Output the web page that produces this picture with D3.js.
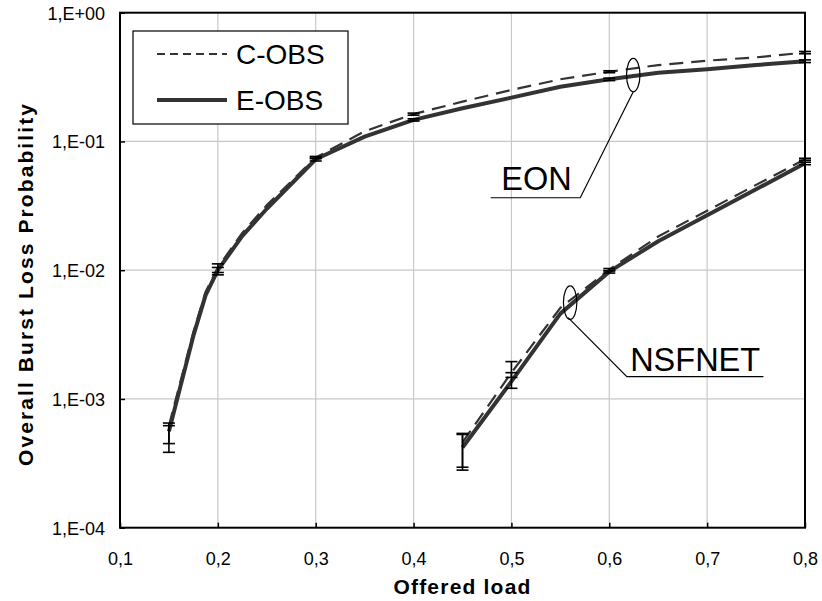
<!DOCTYPE html>
<html>
<head>
<meta charset="utf-8">
<script src="https://cdn.jsdelivr.net/npm/d3@7"></script>
<style>
  body { margin: 0; background: #fff; }
  text { font-family: Arial, "Liberation Sans", sans-serif; fill: #000; }
</style>
</head>
<body>
<div id="chart"></div>
<script>
// burst loss probability vs offered load, log y axis

var width = 822,
    height = 601;

var margin = {left: 120, right: 17, top: 12.7, bottom: 73.3};

// EON curves
var eonX = [0.15, 0.175, 0.1875, 0.2, 0.225, 0.25, 0.3, 0.35, 0.4, 0.45, 0.5, 0.55, 0.6, 0.65, 0.7, 0.75, 0.8];
var eonE = [5.6e-4, 3.1e-3, 6.4e-3, 1.0e-2, 1.85e-2, 3.0e-2, 7.27e-2, 0.109, 0.147, 0.181, 0.219, 0.266, 0.304, 0.342, 0.363, 0.392, 0.42];
var eonC = [6.2e-4, 3.3e-3, 6.8e-3, 1.05e-2, 1.95e-2, 3.2e-2, 7.5e-2, 0.12, 0.163, 0.204, 0.251, 0.304, 0.348, 0.392, 0.424, 0.45, 0.49];

// NSFNET curves
var nsfX = [0.45, 0.5, 0.55, 0.6, 0.65, 0.7, 0.75, 0.8];
var nsfE = [4.2e-4, 1.37e-3, 4.6e-3, 9.75e-3, 1.68e-2, 2.67e-2, 4.25e-2, 6.76e-2];
var nsfC = [4.6e-4, 1.6e-3, 5.1e-3, 1.01e-2, 1.83e-2, 2.9e-2, 4.6e-2, 7.27e-2];

// confidence intervals
var eonErrX = [0.15, 0.2, 0.3, 0.4, 0.6, 0.8];
var eonCLo = [4.5e-4, 9.6e-3, 0.0735, 0.160, 0.342, 0.48];
var eonCHi = [6.5e-4, 1.12e-2, 0.0765, 0.166, 0.354, 0.50];
var eonELo = [3.85e-4, 9.2e-3, 0.0705, 0.144, 0.297, 0.41];
var eonEHi = [6.2e-4, 1.05e-2, 0.0745, 0.150, 0.310, 0.43];

var nsfErrX = [0.45, 0.5, 0.6, 0.8];
var nsfCLo = [2.95e-4, 1.47e-3, 0.0099, 0.0715];
var nsfCHi = [5.3e-4, 1.95e-3, 0.0103, 0.074];
var nsfELo = [2.8e-4, 1.21e-3, 0.0095, 0.066];
var nsfEHi = [5.4e-4, 1.6e-3, 0.0099, 0.069];

var xTicks = [0.1, 0.2, 0.3, 0.4, 0.5, 0.6, 0.7, 0.8];
var xTickLabels = ["0,1", "0,2", "0,3", "0,4", "0,5", "0,6", "0,7", "0,8"];
var yTicks = [1e-4, 1e-3, 1e-2, 1e-1, 1];
var yTickLabels = ["1,E-04", "1,E-03", "1,E-02", "1,E-01", "1,E+00"];

var seriesNames = ["C-OBS", "E-OBS"];

// where the network labels point to (data space)
var eonMark = [0.6245, 0.328];
var nsfMark = [0.56, 5.6e-3];

var svg = d3.select("#chart").append("svg")
    .attr("width", width)
    .attr("height", height);

var x = d3.scaleLinear()
    .domain([0.1, 0.8])
    .range([margin.left, width - margin.right]);

var y = d3.scaleLog()
    .domain([1e-4, 1])
    .range([height - margin.bottom, margin.top]);

var x0 = x.range()[0], x1 = x.range()[1],
    yb = y.range()[0], yt = y.range()[1];

// grid
var grid = svg.append("g").attr("stroke", "#c8c8c8").attr("stroke-width", 1.2);
grid.selectAll(".gx").data(xTicks.slice(1, -1)).enter().append("line")
    .attr("x1", d => x(d)).attr("x2", d => x(d))
    .attr("y1", yt).attr("y2", yb);
grid.selectAll(".gy").data(yTicks.slice(1, -1)).enter().append("line")
    .attr("x1", x0).attr("x2", x1)
    .attr("y1", d => y(d)).attr("y2", d => y(d));

// axes with inside ticks
var xAxis = svg.append("g")
    .attr("transform", "translate(0," + yb + ")")
    .call(d3.axisBottom(x).tickValues(xTicks).tickSize(-5).tickFormat((d, i) => xTickLabels[i]));
xAxis.select(".domain").remove();
xAxis.selectAll("line").attr("stroke", "#000").attr("stroke-width", 1.5);
xAxis.selectAll("text").attr("font-size", 18).attr("y", 0).attr("dy", "37px")
    .attr("font-family", "Arial, 'Liberation Sans', sans-serif");

var yAxis = svg.append("g")
    .attr("transform", "translate(" + x0 + ",0)")
    .call(d3.axisLeft(y).tickValues(yTicks).tickSize(-5).tickFormat((d, i) => yTickLabels[i]));
yAxis.select(".domain").remove();
yAxis.selectAll("line").attr("stroke", "#000").attr("stroke-width", 1.5);
yAxis.selectAll("text").attr("font-size", 18).attr("x", -15).attr("dy", "0.35em")
    .attr("font-family", "Arial, 'Liberation Sans', sans-serif");

// curves
var line = d3.line()
    .x(d => x(d[0]))
    .y(d => y(d[1]));

function zip(xs, ys) { return xs.map((v, i) => [v, ys[i]]); }

var curves = [
  {pts: zip(eonX, eonE), dash: null},
  {pts: zip(nsfX, nsfE), dash: null},
  {pts: zip(eonX, eonC), dash: "14,8"},
  {pts: zip(nsfX, nsfC), dash: "14,8"}
];

svg.selectAll(".curve").data(curves).enter().append("path")
    .attr("class", "curve")
    .attr("fill", "none")
    .attr("stroke", "#333")
    .attr("stroke-width", d => d.dash ? 2.2 : 4)
    .attr("stroke-dasharray", d => d.dash)
    .attr("stroke-linejoin", "round")
    .attr("d", d => line(d.pts));

// error bars
var bars = [];
function addBars(xs, lo, hi) {
  xs.forEach((v, i) => bars.push({x: v, lo: lo[i], hi: hi[i]}));
}
addBars(eonErrX, eonCLo, eonCHi);
addBars(eonErrX, eonELo, eonEHi);
addBars(nsfErrX, nsfCLo, nsfCHi);
addBars(nsfErrX, nsfELo, nsfEHi);

var eb = svg.append("g").attr("stroke", "#000").attr("stroke-width", 1.6);
bars.forEach(function(b) {
  var cx = x(b.x);
  eb.append("line").attr("x1", cx).attr("x2", cx).attr("y1", y(b.lo)).attr("y2", y(b.hi));
  eb.append("line").attr("x1", cx - 6).attr("x2", cx + 6).attr("y1", y(b.lo)).attr("y2", y(b.lo));
  eb.append("line").attr("x1", cx - 6).attr("x2", cx + 6).attr("y1", y(b.hi)).attr("y2", y(b.hi));
});

// frame
svg.append("rect")
    .attr("x", x0).attr("y", yt)
    .attr("width", x1 - x0).attr("height", yb - yt)
    .attr("fill", "none").attr("stroke", "#000").attr("stroke-width", 2);

// axis titles
svg.append("text")
    .attr("x", (x0 + x1) / 2).attr("y", 594)
    .attr("text-anchor", "middle")
    .attr("font-size", 21).attr("font-weight", "bold")
    .attr("letter-spacing", "1.2px")
    .text("Offered load");

svg.append("text")
    .attr("transform", "translate(33,284) rotate(-90)")
    .attr("text-anchor", "middle")
    .attr("font-size", 21).attr("font-weight", "bold")
    .attr("letter-spacing", "2.1px")
    .text("Overall Burst Loss Probability");

// legend
var lg = svg.append("g").attr("transform", "translate(133,31)");
lg.append("rect").attr("width", 215).attr("height", 93)
    .attr("fill", "#fff").attr("stroke", "#000").attr("stroke-width", 1.2);
seriesNames.forEach(function(name, i) {
  var ly = 23 + i * 46;
  lg.append("line").attr("x1", 24).attr("x2", 94).attr("y1", ly).attr("y2", ly)
    .attr("stroke", "#333")
    .attr("stroke-width", i === 0 ? 2 : 4)
    .attr("stroke-dasharray", i === 0 ? "8,5" : null);
  lg.append("text").attr("x", 103).attr("y", ly + 10)
    .attr("font-size", 28).text(name);
});

// network callouts: ellipse, leader line, underlined label
function callout(mark, elbow, endX, label, tx, ty, from) {
  var cx = x(mark[0]), cy = y(mark[1]);
  var g = svg.append("g").attr("stroke", "#000").attr("fill", "none").attr("stroke-width", 1.2);
  g.append("ellipse").attr("cx", cx).attr("cy", cy).attr("rx", 6.7).attr("ry", 16.7);
  g.append("polyline")
    .attr("points", [[cx + from[0], cy + from[1]], [cx + elbow[0], cy + elbow[1]], [cx + endX, cy + elbow[1]]].join(" "));
  svg.append("text").attr("x", cx + tx).attr("y", cy + ty)
    .attr("font-size", 32.5).text(label);
}
callout(eonMark, [-53, 122.7], -142.6, "EON", -132, 115, [0, 16.7]);
callout(nsfMark, [56.7, 74], 193.3, "NSFNET", 60, 68.3, [-2, 15]);
</script>
</body>
</html>
